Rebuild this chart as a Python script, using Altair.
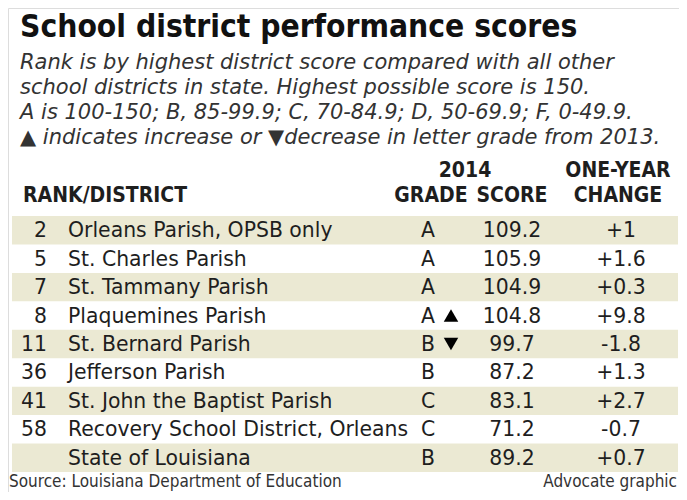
import altair as alt
import pandas as pd

# ---- data ----
ranks = ["2", "5", "7", "8", "11", "36", "41", "58", ""]
districts = [
    "Orleans Parish, OPSB only",
    "St. Charles Parish",
    "St. Tammany Parish",
    "Plaquemines Parish",
    "St. Bernard Parish",
    "Jefferson Parish",
    "St. John the Baptist Parish",
    "Recovery School District, Orleans",
    "State of Louisiana",
]
grades = ["A", "A", "A", "A", "B", "B", "C", "C", "B"]
grade_moves = ["", "", "", "up", "down", "", "", "", ""]
scores = [109.2, 105.9, 104.9, 104.8, 99.7, 87.2, 83.1, 71.2, 89.2]
changes = [1, 1.6, 0.3, 9.8, -1.8, 1.3, 2.7, -0.7, 0.7]

title_text = "School district performance scores"
subtitle_lines = [
    "Rank is by highest district score compared with all other",
    "school districts in state. Highest possible score is 150.",
    "A is 100-150; B, 85-99.9; C, 70-84.9; D, 50-69.9; F, 0-49.9.",
    "\u25B2 indicates increase or \u25BCdecrease in letter grade from 2013.",
]
source_text = "Source: Louisiana Department of Education"
credit_text = "Advocate graphic"

# ---- styling ----
W, H = 671, 484
NARROW = "Liberation Sans Narrow, Arial Narrow, DejaVu Sans Condensed, sans-serif"
WIDE = "DejaVu Sans, Verdana, sans-serif"
BAND = "#ebe9d3"
INK = "#1e1e1e"

df = pd.DataFrame({
    "row": list(range(len(districts))),
    "rank": ranks,
    "district": districts,
    "grade": grades,
    "move": grade_moves,
    "score": scores,
    "change": changes,
})

yscale = alt.Scale(domain=[-0.5, len(districts) - 0.5], range=[208, 464], nice=False, zero=False)
Y = alt.Y("row:Q", scale=yscale, axis=None)

base = alt.Chart(df)

bands = base.transform_filter("datum.row % 2 == 0").transform_calculate(
    y0="datum.row - 0.5", y1="datum.row + 0.5"
).mark_rect(color=BAND).encode(
    y=alt.Y("y0:Q", scale=yscale, axis=None),
    y2="y1:Q",
    x=alt.value(4),
    x2=alt.value(670),
)

cell = dict(font=WIDE, fontSize=20.4, color=INK, baseline="middle", dy=1)

rank_t = base.mark_text(align="right", **cell).encode(y=Y, x=alt.value(39), text="rank:N")
dist_t = base.mark_text(align="left", **cell).encode(y=Y, x=alt.value(60), text="district:N")
grade_t = base.mark_text(align="center", **cell).encode(y=Y, x=alt.value(420), text="grade:N")
score_t = base.mark_text(align="center", **cell).encode(
    y=Y, x=alt.value(504), text=alt.Text("score:Q", format=".1f")
)
change_t = base.transform_calculate(
    chg="replace(format(datum.change, '+.2~g'), '\u2212', '-')"
).mark_text(align="center", **cell).encode(
    y=Y, x=alt.value(613), text="chg:N"
)

up = base.transform_filter("datum.move == 'up'").mark_point(
    shape="triangle-up", filled=True, color="#000", size=210, opacity=1
).encode(y=Y, x=alt.value(443))
down = base.transform_filter("datum.move == 'down'").mark_point(
    shape="triangle-down", filled=True, color="#000", size=210, opacity=1
).encode(y=Y, x=alt.value(443))


def label(text, x, y, align="left", font=NARROW, size=20, weight="bold", style="normal",
          color=INK, baseline="alphabetic"):
    return alt.Chart(pd.DataFrame({"t": [text]})).mark_text(
        align=align, baseline=baseline, font=font, fontSize=size,
        fontWeight=weight, fontStyle=style, color=color,
    ).encode(text="t:N", x=alt.value(x), y=alt.value(y))


layers = [bands, rank_t, dist_t, grade_t, up, down, score_t, change_t]

# title & subtitle
layers.append(label(title_text, 12, 4, size=31.5, color="#111", baseline="top"))
for i, line in enumerate(subtitle_lines):
    layers.append(label(line, 12, 61 + 25 * i, font=WIDE, size=21, weight="normal",
                        style="italic", color="#333"))

# column headers
layers += [
    label("RANK/DISTRICT", 15, 194, size=21),
    label("2014", 457, 169, align="center", size=21),
    label("GRADE", 423, 194, align="center", size=21),
    label("SCORE", 504, 194, align="center", size=21),
    label("ONE-YEAR", 610, 169, align="center", size=21),
    label("CHANGE", 610, 194, align="center", size=21),
]

# footer
layers.append(label(source_text, 1, 479, size=17, weight="normal", color="#333"))
layers.append(label(credit_text, 669, 479, align="right", size=17, weight="normal", color="#333"))

chart = alt.layer(*layers).properties(
    width=W, height=H, padding=0, autosize=alt.AutoSizeParams(type="none")
).configure_view(stroke=None).configure(background="#ffffff")

chart.save("out.html", embed_options={"renderer": "svg", "actions": False})
